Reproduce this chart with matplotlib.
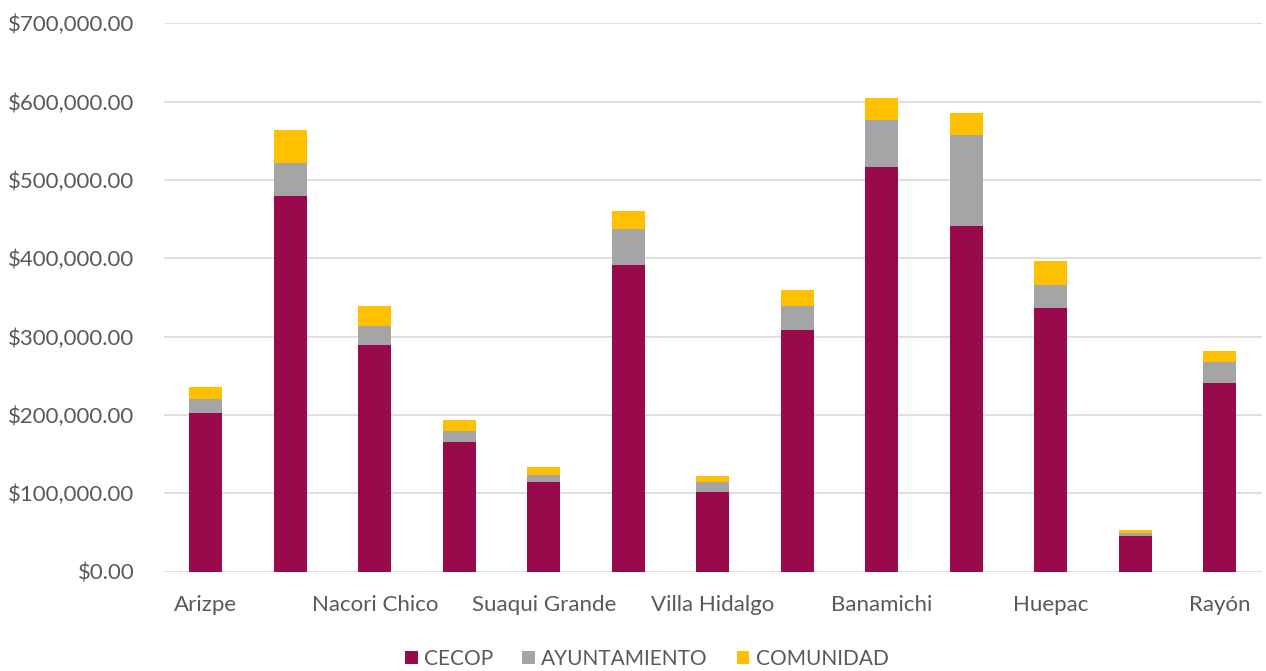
import matplotlib.pyplot as plt
from matplotlib.ticker import FuncFormatter
import numpy as np

# categories (only every other label is shown in the original chart)
municipios = ['Arizpe', '', 'Nacori Chico', '', 'Suaqui Grande', '', 'Villa Hidalgo',
              '', 'Banamichi', '', 'Huepac', '', 'Rayón']

# stacked series values (pesos)
cecop = [202000, 479000, 289000, 165000, 114000, 391000, 102000,
         308000, 516000, 441000, 336000, 45000, 241000]
ayuntamiento = [18000, 43000, 24000, 14000, 10000, 47000, 13000,
                31000, 60000, 117000, 30000, 5000, 27000]
comunidad = [16000, 42000, 26000, 15000, 9000, 22000, 7000,
             21000, 28000, 28000, 31000, 3000, 14000]

series = ['CECOP', 'AYUNTAMIENTO', 'COMUNIDAD']
colors = ['#990A4C', '#A5A5A5', '#FFC000']

plt.rcParams['font.family'] = ['Lato', 'DejaVu Sans']
txt_color = '#595959'

fig = plt.figure(figsize=(12.66, 6.71), dpi=100)
ax = fig.add_axes([0.1293, 0.148, 0.8675, 0.8173])

x = np.arange(len(municipios))
w = 0.39
bottom = np.zeros(len(x))
for name, vals, c in zip(series, [cecop, ayuntamiento, comunidad], colors):
    ax.bar(x, vals, w, bottom=bottom, color=c, label=name, zorder=3)
    bottom += np.array(vals)

ax.set_ylim(0, 700000)
ax.set_xlim(-0.5, len(x) - 0.5)
ax.set_yticks(np.arange(0, 700001, 100000))
ax.yaxis.set_major_formatter(FuncFormatter(lambda v, p: '${:,.2f}'.format(v)))
ax.set_xticks(x)
ax.set_xticklabels(municipios)
ax.grid(axis='y', color='#D9D9D9', linewidth=1.2, zorder=0)
ax.tick_params(axis='both', length=0, labelsize=16, colors=txt_color)
ax.tick_params(axis='y', pad=21)
ax.tick_params(axis='x', pad=17)
for s in ax.spines.values():
    s.set_visible(False)

fig.legend(loc='center', bbox_to_anchor=(0.511, 0.018), ncol=3, frameon=False,
           fontsize=15, labelcolor=txt_color, handlelength=0.6, handleheight=0.6,
           handletextpad=0.3, columnspacing=1.4)

plt.savefig('out.png', dpi=100)
